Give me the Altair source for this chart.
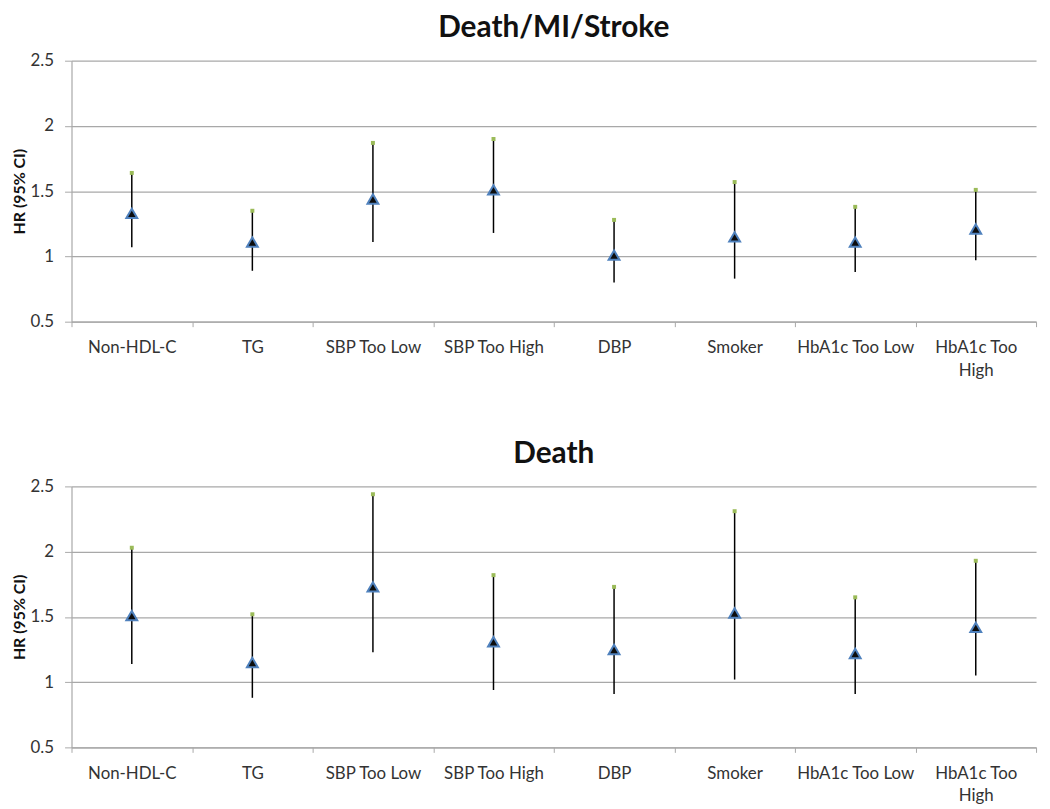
import altair as alt
import pandas as pd

cats = ["Non-HDL-C", "TG", "SBP Too Low", "SBP Too High", "DBP", "Smoker",
        "HbA1c Too Low", "HbA1c Too High"]

top_title = "Death/MI/Stroke"
top_hr = [1.33, 1.11, 1.44, 1.51, 1.01, 1.15, 1.11, 1.21]
top_lo = [1.07, 0.89, 1.11, 1.18, 0.80, 0.83, 0.88, 0.97]
top_hi = [1.64, 1.35, 1.87, 1.90, 1.28, 1.57, 1.38, 1.51]

bot_title = "Death"
bot_hr = [1.51, 1.15, 1.73, 1.31, 1.25, 1.53, 1.22, 1.42]
bot_lo = [1.14, 0.88, 1.23, 0.94, 0.91, 1.02, 0.91, 1.05]
bot_hi = [2.03, 1.52, 2.44, 1.82, 1.73, 2.31, 1.65, 1.93]

y_ticks = [0.5, 1, 1.5, 2, 2.5]

FONT = "Lato"
GRID = "#a8a8a8"


def panel(title, hr, lo, hi):
    df = pd.DataFrame({"cat": cats, "hr": hr, "lo": lo, "hi": hi})
    xenc = alt.X(
        "cat:N", sort=cats, title=None,
        scale=alt.Scale(paddingInner=0, paddingOuter=0),
        axis=alt.Axis(
            tickBand="extent", grid=False, labelAngle=0,
            labelFontSize=17, labelColor="#333333", labelFont=FONT,
            labelPadding=13, tickSize=5, labelLineHeight=23,
            labelExpr="datum.label == 'HbA1c Too High' ? ['HbA1c Too', 'High'] : datum.label",
        ),
    )
    yscale = alt.Scale(domain=[0.5, 2.5], nice=False, zero=False)
    base = alt.Chart(df).encode(x=xenc)
    rule = base.mark_rule(color="#000000", strokeWidth=1.5).encode(
        y=alt.Y("lo:Q", scale=yscale,
                axis=alt.Axis(values=y_ticks, format="~g", title="HR (95% CI)",
                              titleFontSize=16, titleFontWeight="bold",
                              titleFont=FONT, titleColor="#111111",
                              titlePadding=3,
                              labelFontSize=17, labelFont=FONT,
                              labelColor="#333333", tickSize=7,
                              labelPadding=11)),
        y2="hi:Q",
    )
    cap = base.mark_square(color="#9bbb59", size=16, opacity=1).encode(
        y=alt.Y("hi:Q", scale=yscale))
    tri = base.mark_point(shape="triangle-up", fill="#0d0d0d", stroke="#4f81bd",
                          strokeWidth=2, size=120, opacity=1,
                          fillOpacity=1).encode(
        y=alt.Y("hr:Q", scale=yscale))
    return alt.layer(rule, cap, tri).properties(
        width=972, height=263,
        title=alt.TitleParams(title, fontSize=30, font=FONT, fontWeight="bold",
                              color="#111111", anchor="middle", offset=9),
    )


chart = alt.vconcat(
    panel(top_title, top_hr, top_lo, top_hi),
    panel(bot_title, bot_hr, bot_lo, bot_hi),
    spacing=61,
).properties(
    padding={"left": 3, "top": 2, "right": 5, "bottom": 5}
).configure_view(stroke=None).configure_axis(
    gridColor=GRID, domainColor=GRID, tickColor=GRID, gridWidth=1.2,
    domainWidth=1.2,
)

chart.save("out.html", embed_options={"renderer": "svg", "actions": False})
